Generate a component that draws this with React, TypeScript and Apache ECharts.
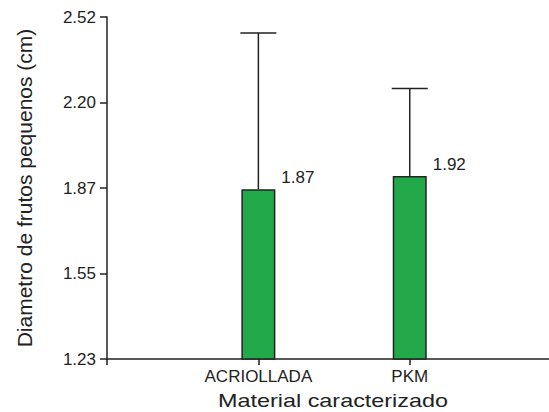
import React, { useEffect, useRef } from "react";
import * as echarts from "echarts";

const categories = ["ACRIOLLADA", "PKM"];
const categoryPositions = [1, 2];
const barValues = [1.87, 1.92];
const errorTops = [2.46, 2.25];
const yTickValues = [1.23, 1.5525, 1.875, 2.1975, 2.52];
const yTickLabels = ["1.23", "1.55", "1.87", "2.20", "2.52"];
const yTitle = "Diametro de frutos pequenos (cm)";
const xTitle = "Material caracterizado";

const FONT = "'Liberation Sans', Arial, Helvetica, sans-serif";
const DARK = "#222222";

export default function App() {
  const ref = useRef<HTMLDivElement>(null);
  useEffect(() => {
    if (!ref.current) return;
    const chart = echarts.init(ref.current, undefined, { renderer: "svg" });
    const barData = categoryPositions.map((x, i) => [x, barValues[i]]);
    const errData = categoryPositions.map((x, i) => [x, barValues[i], errorTops[i]]);
    chart.setOption({
      animation: false,
      backgroundColor: "#ffffff",
      grid: { left: 107, top: 17, right: 0, bottom: 53, containLabel: false },
      xAxis: {
        type: "value",
        min: 0,
        max: 2.92,
        splitLine: { show: false },
        axisLine: { show: true, onZero: false, lineStyle: { color: DARK, width: 1.5 } },
        axisTick: {
          show: true,
          length: 6,
          customValues: [0, 1, 2],
          lineStyle: { color: DARK, width: 1.5 },
        },
        axisLabel: {
          customValues: categoryPositions,
          margin: 9,
          color: DARK,
          fontFamily: FONT,
          fontSize: 17,
          formatter: (v: number) => {
            const i = categoryPositions.indexOf(Math.round(v));
            return i >= 0 ? categories[i] : "";
          },
        },
      },
      yAxis: {
        type: "value",
        min: 1.23,
        max: 2.52,
        splitLine: { show: false },
        axisLine: { show: true, lineStyle: { color: DARK, width: 1.5 } },
        axisTick: {
          show: true,
          length: 7,
          customValues: yTickValues,
          lineStyle: { color: DARK, width: 1.5 },
        },
        axisLabel: {
          customValues: yTickValues,
          margin: 11,
          color: DARK,
          fontFamily: FONT,
          fontSize: 17,
          formatter: (v: number) => {
            let best = 0;
            yTickValues.forEach((t, i) => {
              if (Math.abs(t - v) < Math.abs(yTickValues[best] - v)) best = i;
            });
            return yTickLabels[best];
          },
        },
        name: yTitle,
        nameLocation: "middle",
        nameRotate: 90,
        nameGap: 72,
        nameTextStyle: { color: DARK, fontFamily: FONT, fontSize: 21 },
      },
      graphic: [
        {
          type: "text",
          x: 333,
          y: 401,
          scaleX: 1.3,
          style: {
            text: xTitle,
            fill: DARK,
            font: `18px ${FONT}`,
            textAlign: "center",
            textVerticalAlign: "middle",
          },
        },
      ],
      series: [
        {
          type: "bar",
          data: barData,
          barWidth: 34,
          itemStyle: { color: "#22AA4A", borderColor: DARK, borderWidth: 1.5 },
          label: {
            show: true,
            position: [40, -12],
            align: "left",
            verticalAlign: "middle",
            color: DARK,
            fontFamily: FONT,
            fontSize: 17,
            formatter: (p: any) => p.value[1].toFixed(2),
          },
          z: 2,
        },
        {
          type: "custom",
          data: errData,
          z: 1,
          renderItem: (params: any, api: any) => {
            const x = api.value(0);
            const base = api.coord([x, api.value(1)]);
            const top = api.coord([x, api.value(2)]);
            const half = 18;
            const style = { stroke: DARK, lineWidth: 1.5 };
            return {
              type: "group",
              children: [
                { type: "line", shape: { x1: base[0], y1: base[1], x2: top[0], y2: top[1] }, style },
                { type: "line", shape: { x1: top[0] - half, y1: top[1], x2: top[0] + half, y2: top[1] }, style },
              ],
            };
          },
        },
      ],
    });
    return () => chart.dispose();
  }, []);
  return (
    <div
      ref={ref}
      style={{ position: "fixed", left: 0, top: 0, width: 549, height: 412 }}
    />
  );
}
